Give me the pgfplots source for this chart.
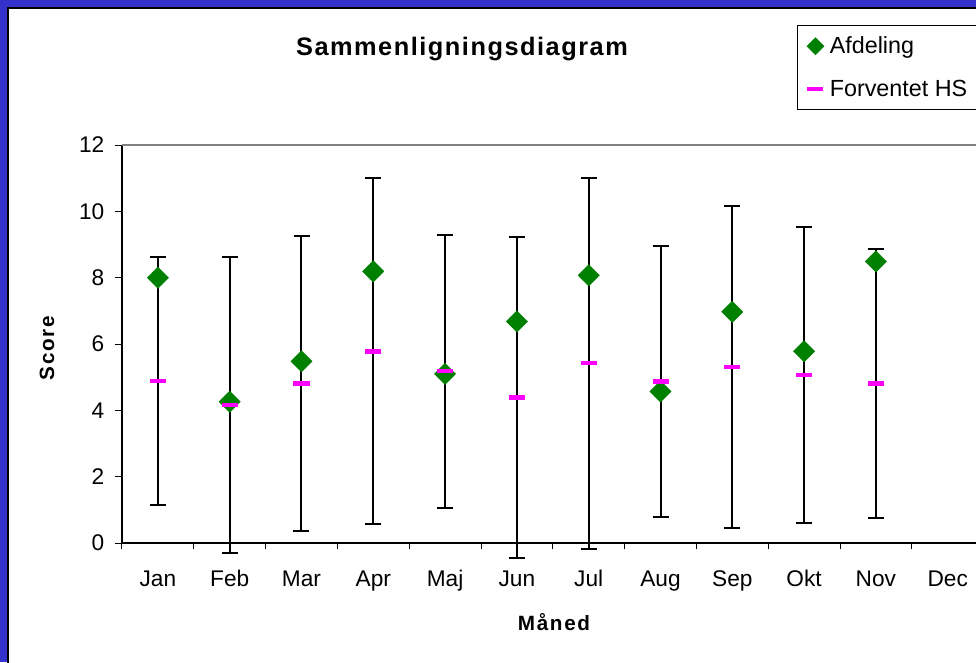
\documentclass[border=0pt]{standalone}
\usepackage{fontspec}
\setmainfont{Liberation Sans}
\usepackage{pgfplots}
\pgfplotsset{compat=1.18}
\usepackage{pgfplotstable}
\definecolor{frameblue}{HTML}{3333CC}
\definecolor{afd}{HTML}{008000}
\definecolor{hs}{HTML}{FF00FF}
\definecolor{topgray}{HTML}{808080}
\pgfplotstableread{
x afd hs err
0 8.00 4.88 3.73
1 4.26 4.16 4.45
2 5.48 4.81 4.46
3 8.19 5.78 5.22
4 5.10 5.18 4.11
5 6.68 4.39 4.83
6 8.07 5.42 5.59
7 4.57 4.87 4.10
8 6.97 5.30 4.86
9 5.78 5.06 4.46
10 8.49 4.81 4.06
}\datatable
\begin{document}
\begin{tikzpicture}
\useasboundingbox (0,0) rectangle (732pt,-496.5pt);
\fill[frameblue] (0,0) rectangle (732pt,-496.5pt);
\fill[black] (5.5pt,-5.5pt) rectangle (740pt,-505pt);
\fill[white] (7pt,-7pt) rectangle (740pt,-505pt);
\begin{axis}[
  at={(91.5pt,-407.25pt)}, anchor=south west,
  scale only axis, width=646.2pt, height=298.5pt,
  xmin=-0.5, xmax=11.5, ymin=0, ymax=12,
  clip=false,
  axis x line*=bottom, axis y line*=left,
  axis line style={line width=1.1pt, -},
  xtick={0,...,11},
  xticklabels={Jan,Feb,Mar,Apr,Maj,Jun,Jul,Aug,Sep,Okt,Nov,Dec},
  major x tick style={draw=none},
  minor xtick={-0.5,0.5,...,10.5},
  minor tick length=4.5pt,
  major tick length=5.25pt,
  tick align=outside,
  ytick={0,2,...,12},
  tick style={black, line width=0.75pt},
  ticklabel style={font=\fontsize{17}{20}\selectfont},
  xticklabel style={yshift=-11pt, text height=12.5pt, text depth=3.5pt},
  yticklabel style={xshift=-4.5pt},
  /pgf/number format/assume math mode=true,
  title={Sammenligningsdiagram},
  title style={at={(axis description cs:0.3946,1.221)}, anchor=center,
    font=\fontsize{19}{22}\selectfont\bfseries\addfontfeatures{LetterSpace=6}},
  xlabel={Måned},
  xlabel style={at={(axis description cs:0.5014,-0.1985)}, anchor=center,
    font=\fontsize{15.5}{18}\selectfont\bfseries\addfontfeatures{LetterSpace=8}},
  ylabel={Score},
  ylabel style={at={(axis description cs:-0.087,0.49)}, anchor=center,
    font=\fontsize{15.5}{18}\selectfont\bfseries\addfontfeatures{LetterSpace=8}},
  legend style={at={(axis description cs:0.7834,1.3015)}, anchor=north west,
    draw=black, line width=0.75pt, font=\fontsize{17.5}{20}\selectfont,
    row sep=14pt, inner xsep=7pt, inner ysep=6.5pt, cells={anchor=west}},
  legend cell align=left,
]
\draw[topgray, line width=1.5pt] (rel axis cs:0,1) -- (rel axis cs:1,1);
\addplot[draw=none, mark=none, forget plot,
  error bars/.cd, y dir=both, y explicit,
  error bar style={draw=black, line width=1.5pt},
  error mark options={rotate=90, draw=black, line width=1.5pt, mark size=6pt}]
  table[x=x, y=hs, y error=err]{\datatable};
\addplot[only marks, mark=square*, mark size=5.7pt,
  mark options={rotate=45, fill=afd, draw=afd, line width=0.2pt},
  legend image code/.code={\draw[mark=square*, mark size=4.6pt, mark options={rotate=45, fill=afd, draw=afd, line width=0.2pt}] plot coordinates {(0pt,0pt)}; \path[draw=none, fill=none] (-6.5pt,0pt) -- (8.75pt,0pt);}]
  table[x=x, y=afd]{\datatable};
\addlegendentry{Afdeling}
\addplot[only marks, mark=-, mark size=6pt,
  mark options={draw=hs, line width=3.3pt},
  legend image code/.code={\draw[mark=-, mark size=6pt, mark options={draw=hs, line width=3pt}] plot coordinates {(0pt,0pt)}; \path[draw=none, fill=none] (-6.5pt,0pt) -- (8.75pt,0pt);}]
  table[x=x, y=hs]{\datatable};
\addlegendentry{Forventet HS\hspace*{24pt}}
\end{axis}
\end{tikzpicture}
\end{document}
